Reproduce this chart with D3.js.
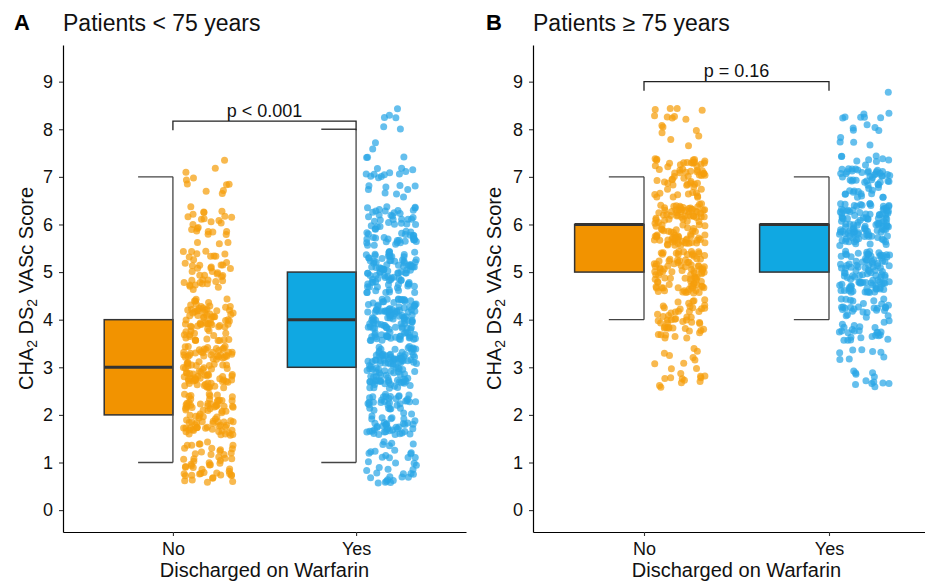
<!DOCTYPE html>
<html>
<head>
<meta charset="utf-8">
<script src="https://cdn.jsdelivr.net/npm/d3@7"></script>
<style>
  html, body { margin: 0; padding: 0; background: #fff; }
  svg { display: block; font-family: "Liberation Sans", Arial, sans-serif; }
</style>
</head>
<body>
<svg id="chart" width="925" height="581"></svg>
<script>
// ---------------- DATA ----------------
const categories = ["No", "Yes"];
const scores = [0, 1, 2, 3, 4, 5, 6, 7, 8, 9];
const yTicks = [0, 1, 2, 3, 4, 5, 6, 7, 8, 9];

// estimated number of patients per score (jittered dots)
const countsA_No  = [0, 52, 85, 95, 75, 42, 26, 11, 0, 0];
const countsA_Yes = [0, 38, 75, 110, 120, 95, 62, 24, 8, 0];
const countsB_No  = [0, 0, 0, 22, 52, 95, 105, 62, 16, 0];
const countsB_Yes = [0, 0, 0, 20, 55, 105, 112, 62, 16, 1];

// box statistics [lower whisker, Q1, median, Q3, upper whisker]
const boxA_No  = [1, 2, 3, 4, 7];
const boxA_Yes = [1, 3, 4, 5, 8];
const boxB_No  = [4, 5, 6, 6, 7];
const boxB_Yes = [4, 5, 6, 6, 7];

const panelLetters = ["A", "B"];
const panelTitles = ["Patients < 75 years", "Patients \u2265 75 years"];
const pLabels = ["p < 0.001", "p = 0.16"];
const pBracketY = [8.17, 9.0];   // bracket height in score units

// ---------------- STYLE ----------------
const boxFill = { No: "#F29300", Yes: "#10A8E2" };
const dotFill = { No: "#F59E0B", Yes: "#2AA6E6" };

const svg = d3.select("#chart");

const panels = [
  { letter: panelLetters[0], title: panelTitles[0], p: pLabels[0], pY: pBracketY[0],
    counts: { No: countsA_No, Yes: countsA_Yes }, box: { No: boxA_No, Yes: boxA_Yes },
    xRange: [63, 466], letterX: 14, yLabelX: 33, seeds: [0.137, 0.829, 0.411, 0.263] },
  { letter: panelLetters[1], title: panelTitles[1], p: pLabels[1], pY: pBracketY[1],
    counts: { No: countsB_No, Yes: countsB_Yes }, box: { No: boxB_No, Yes: boxB_Yes },
    xRange: [533, 940], letterX: 486, yLabelX: 501, seeds: [0.571, 0.094, 0.682, 0.347] }
];

const y = d3.scaleLinear().domain([-0.46, 9.77]).range([532, 45]);

panels.forEach(P => {
  const g = svg.append("g");
  const x = d3.scalePoint().domain(categories).range(P.xRange).padding(0.6);
  const step = x.step();
  const halfBox = step * 0.375;
  const whiskerW = step * 0.19;

  // ---- boxes ----
  categories.forEach(cat => {
    const [lo, q1, med, q3, hi] = P.box[cat];
    const cx = x(cat);
    g.append("rect")
      .attr("x", cx - halfBox).attr("y", y(q3))
      .attr("width", halfBox).attr("height", y(q1) - y(q3))
      .attr("fill", boxFill[cat]).attr("stroke", "#333").attr("stroke-width", 1.5);
    g.append("line")
      .attr("x1", cx - halfBox).attr("x2", cx)
      .attr("y1", y(med)).attr("y2", y(med))
      .attr("stroke", "#333").attr("stroke-width", 3);
    g.append("line")
      .attr("x1", cx).attr("x2", cx)
      .attr("y1", y(hi)).attr("y2", y(lo))
      .attr("stroke", "#444").attr("stroke-width", 1.3);
    [hi, lo].forEach(v => {
      g.append("line")
        .attr("x1", cx - whiskerW).attr("x2", cx)
        .attr("y1", y(v)).attr("y2", y(v))
        .attr("stroke", "#444").attr("stroke-width", 1.3);
    });
  });

  // ---- jittered dots (jitter is layout only, deterministic) ----
  categories.forEach((cat, ci) => {
    const cx = x(cat);
    const jx = d3.randomUniform.source(d3.randomLcg(P.seeds[ci * 2]))(cx + step * 0.055, cx + step * 0.33);
    const jy = d3.randomUniform.source(d3.randomLcg(P.seeds[ci * 2 + 1]))(-0.44, 0.44);
    const pts = [];
    scores.forEach((s, i) => {
      const n = P.counts[cat][i];
      for (let k = 0; k < n; k++) pts.push({ s: s });
    });
    pts.forEach(d => { d.px = jx(); });
    pts.forEach(d => { d.dy = jy(); });
    d3.shuffle(pts, d3.randomLcg(P.seeds[ci]));
    g.append("g").selectAll("circle").data(pts).join("circle")
      .attr("cx", d => d.px)
      .attr("cy", d => y(d.s + d.dy))
      .attr("r", 3.5)
      .attr("fill", dotFill[cat])
      .attr("fill-opacity", 0.72);
  });

  // ---- axes ----
  const yAxis = g.append("g").attr("transform", `translate(${P.xRange[0]},0)`)
    .call(d3.axisLeft(y).tickValues(yTicks).tickSize(4).tickSizeOuter(0).tickPadding(6));
  yAxis.select(".domain").attr("stroke", "#000").attr("stroke-width", 1.2);
  yAxis.selectAll(".tick line").attr("stroke", "#333").attr("stroke-width", 1.1);
  yAxis.selectAll(".tick text").attr("font-size", 18).attr("fill", "#111")
    .attr("font-family", "Liberation Sans, Arial, sans-serif");

  const xAxis = g.append("g").attr("transform", `translate(0,532)`)
    .call(d3.axisBottom(x).tickSize(4).tickSizeOuter(0).tickPadding(6));
  xAxis.select(".domain").attr("stroke", "#000").attr("stroke-width", 1.2);
  xAxis.selectAll(".tick line").attr("stroke", "#333").attr("stroke-width", 1.1);
  xAxis.selectAll(".tick text").attr("font-size", 18).attr("fill", "#111")
    .attr("font-family", "Liberation Sans, Arial, sans-serif");

  // ---- significance bracket ----
  const bx1 = x("No"), bx2 = x("Yes"), by = y(P.pY), tick = 9;
  g.append("path")
    .attr("d", `M${bx1},${by + tick}V${by}H${bx2}V${by + tick}`)
    .attr("fill", "none").attr("stroke", "#222").attr("stroke-width", 1.3);
  g.append("text")
    .attr("x", (bx1 + bx2) / 2).attr("y", by - 4.5)
    .attr("text-anchor", "middle").attr("font-size", 18).attr("fill", "#111")
    .text(P.p);

  // ---- titles ----
  g.append("text").attr("x", P.letterX).attr("y", 30)
    .attr("font-size", 22).attr("font-weight", "bold").attr("fill", "#000")
    .text(P.letter);
  g.append("text").attr("x", P.xRange[0]).attr("y", 31)
    .attr("font-size", 23).attr("fill", "#111")
    .text(P.title);

  // ---- axis titles ----
  g.append("text")
    .attr("x", (x("No") + x("Yes")) / 2).attr("y", 577)
    .attr("text-anchor", "middle").attr("font-size", 20).attr("fill", "#111")
    .text("Discharged on Warfarin");

  const yl = g.append("text")
    .attr("transform", `translate(${P.yLabelX},${(y.range()[0] + y.range()[1]) / 2}) rotate(-90)`)
    .attr("text-anchor", "middle").attr("font-size", 20).attr("fill", "#111");
  yl.append("tspan").text("CHA");
  yl.append("tspan").attr("font-size", 14).attr("dy", 4).text("2");
  yl.append("tspan").attr("dy", -4).text(" DS");
  yl.append("tspan").attr("font-size", 14).attr("dy", 4).text("2");
  yl.append("tspan").attr("dy", -4).text(" VASc Score");
});
</script>
</body>
</html>
